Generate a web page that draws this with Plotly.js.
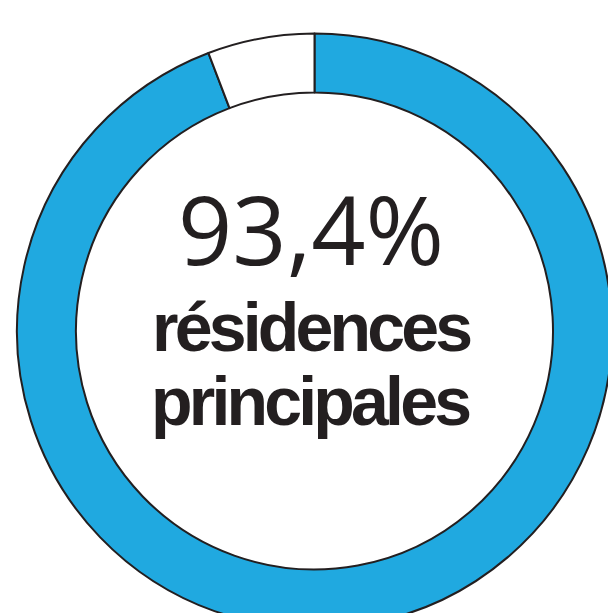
<!DOCTYPE html>
<html>
<head>
<meta charset="utf-8">
<script src="https://cdn.plot.ly/plotly-3.0.1.min.js"></script>
<style>
html,body{margin:0;padding:0;overflow:hidden;background:#fff;}
#chart{width:630px;height:640px;}
</style>
</head>
<body>
<div id="chart"></div>
<script>
// Slice values as read from the drawn ring (white gap spans ~21 degrees)
const categories = ['résidences principales', 'autres'];
const shares = [94.2, 5.8];
const sliceColors = ['#20a9e0', '#ffffff'];
const centerValue = '93,4%';
const centerLabel = ['résidences', 'principales'];

const W = 630, H = 640;
const cx = 314.5, cy = 331, R = 297.5;

const trace = {
  type: 'pie',
  labels: categories,
  values: shares,
  sort: false,
  direction: 'clockwise',
  rotation: 0,
  hole: 238.5 / 297.5,
  textinfo: 'none',
  hoverinfo: 'none',
  showlegend: false,
  marker: { colors: sliceColors, line: { color: '#231f20', width: 2 } },
  domain: { x: [(cx - R) / W, (cx + R) / W], y: [(H - cy - R) / H, (H - cy + R) / H] }
};

const boldFont = { family: 'Liberation Sans, Arial, sans-serif', size: 68, color: '#231f20', weight: 700 };
const tight = s => '<span style="letter-spacing:-3.8px">' + s + '</span>';

const layout = {
  width: W, height: H,
  margin: { l: 0, r: 0, t: 0, b: 0, pad: 0 },
  paper_bgcolor: '#fff',
  showlegend: false,
  annotations: [
    { text: centerValue, xref: 'paper', yref: 'paper', x: 310.5 / W, y: (H - 228) / H,
      xanchor: 'center', yanchor: 'middle', showarrow: false,
      font: { family: 'Open Sans, Lato, sans-serif', size: 95, color: '#231f20', weight: 400 } },
    { text: tight(centerLabel[0]), xref: 'paper', yref: 'paper', x: 311 / W, y: (H - 326.5) / H,
      xanchor: 'center', yanchor: 'middle', showarrow: false, font: boldFont },
    { text: tight(centerLabel[1]), xref: 'paper', yref: 'paper', x: 310 / W, y: (H - 400.5) / H,
      xanchor: 'center', yanchor: 'middle', showarrow: false, font: boldFont }
  ]
};

Plotly.newPlot('chart', [trace], layout, { staticPlot: true, displayModeBar: false });
</script>
</body>
</html>
